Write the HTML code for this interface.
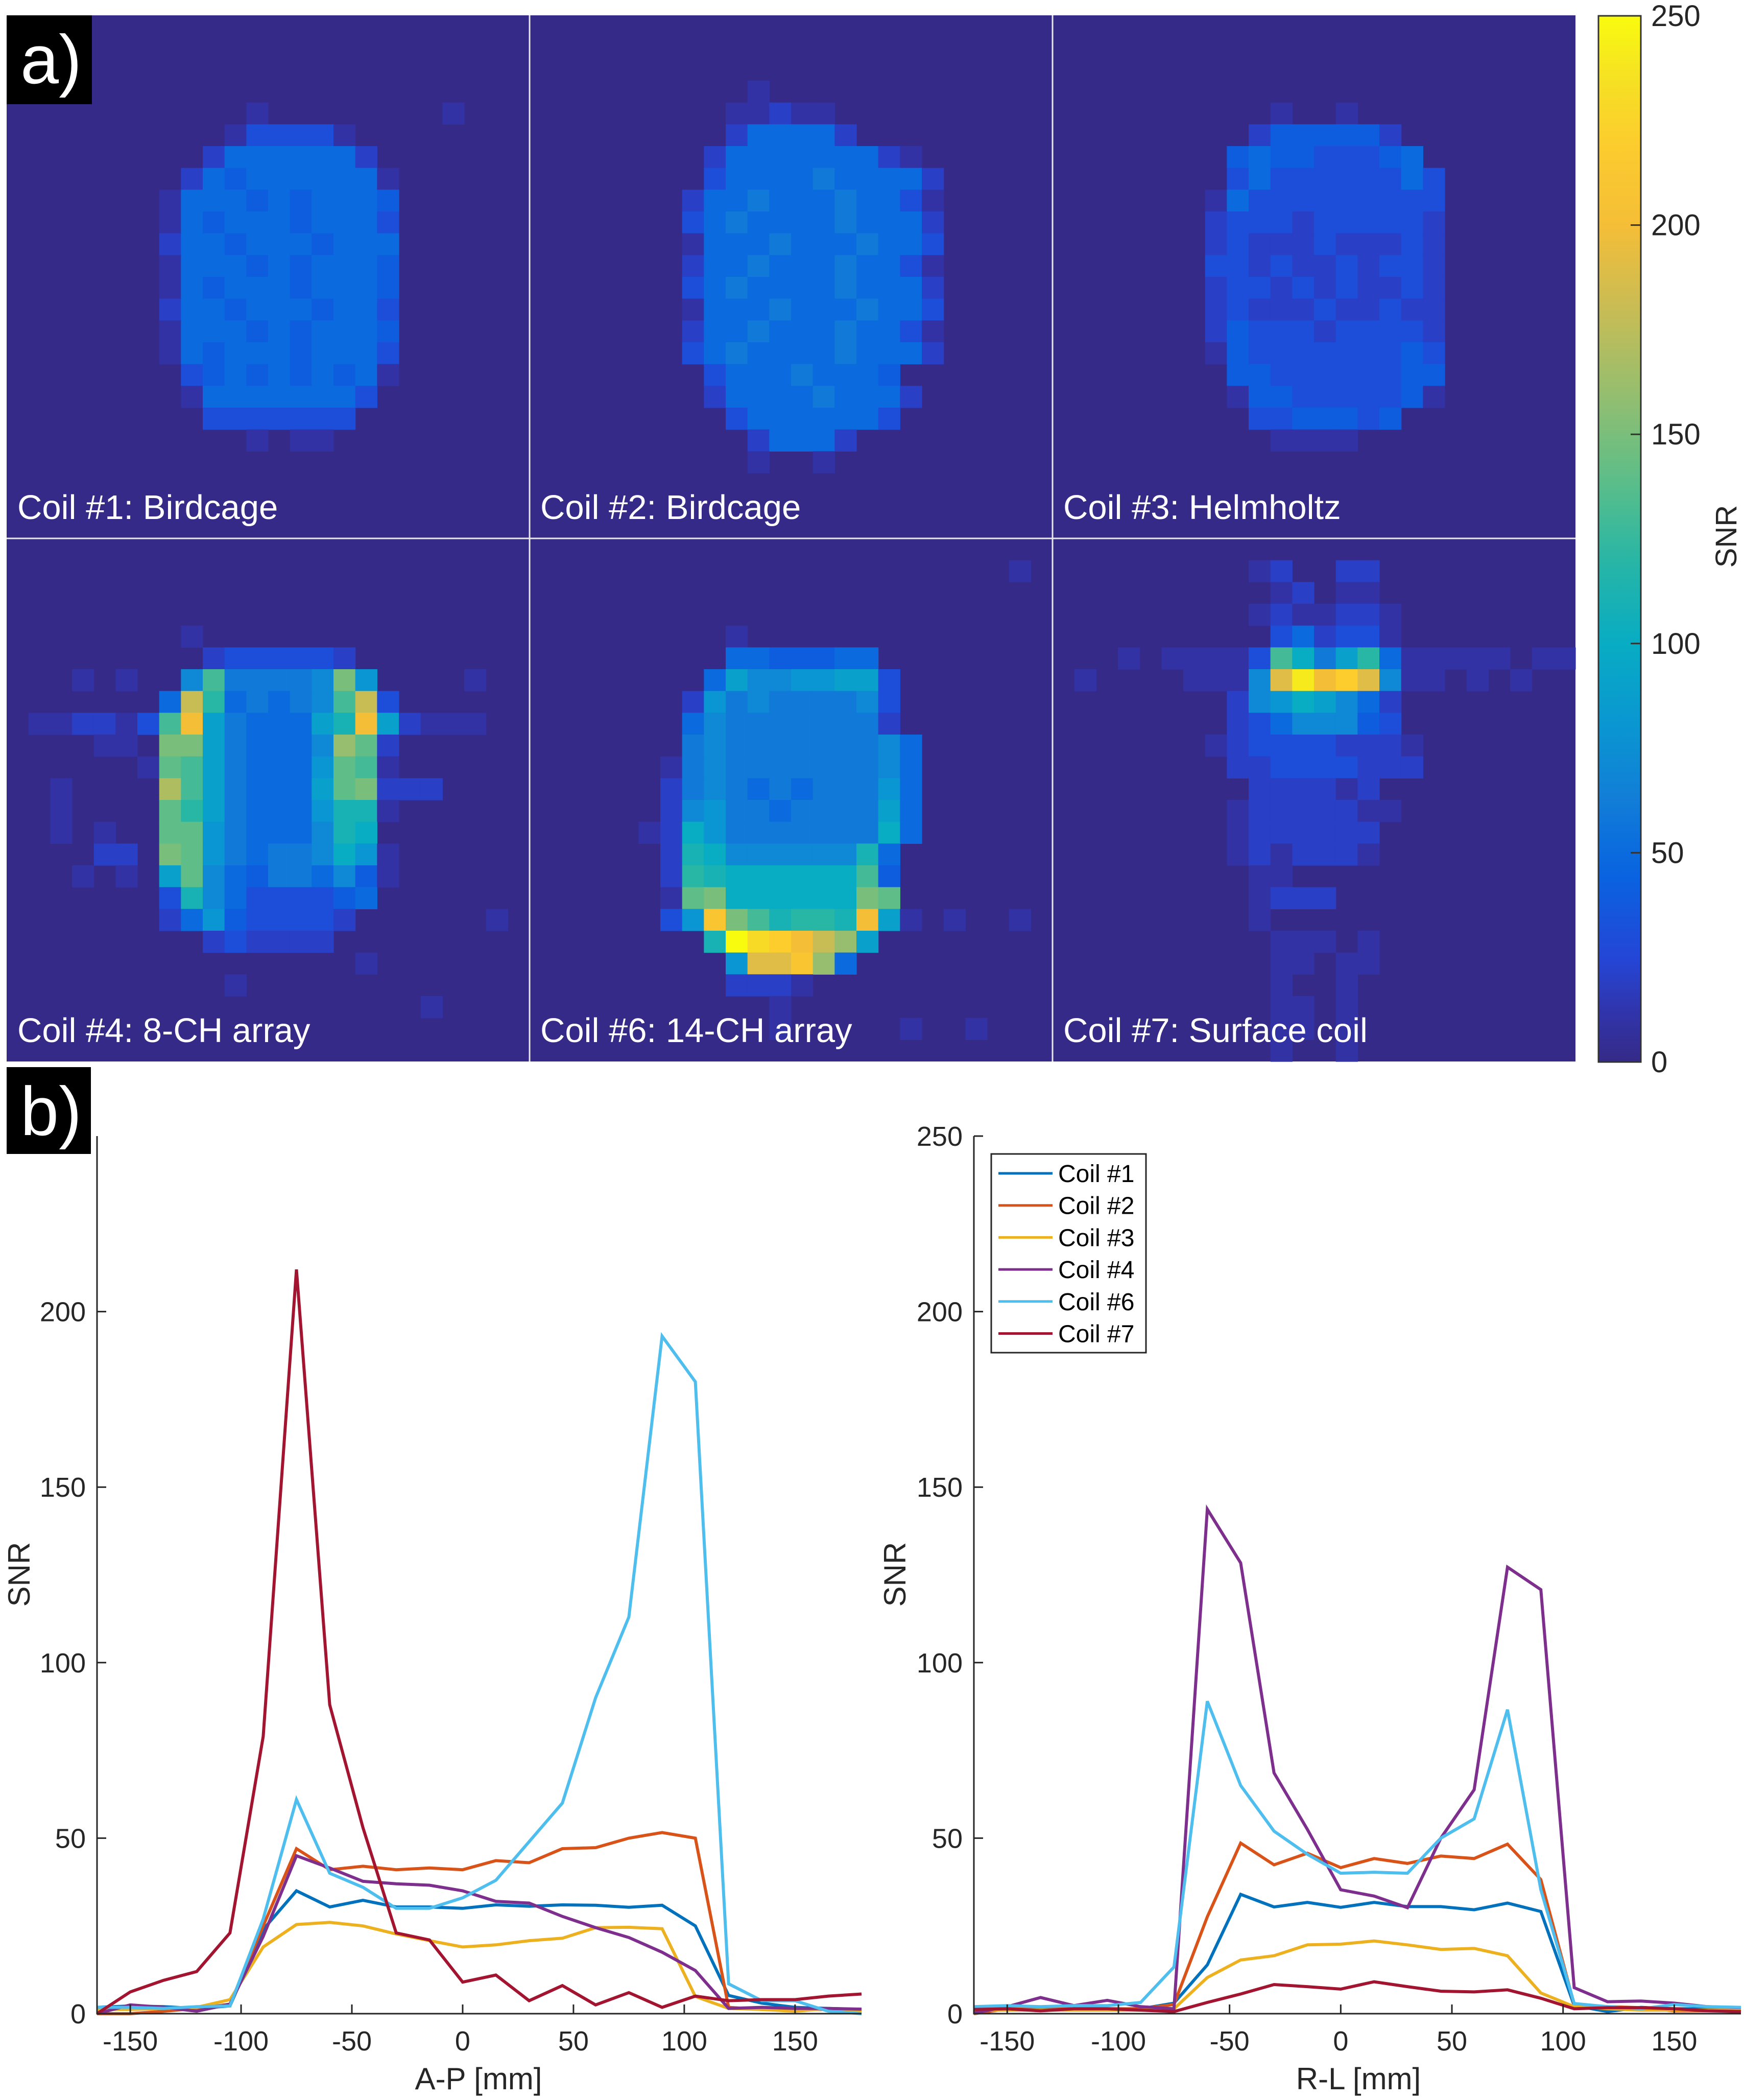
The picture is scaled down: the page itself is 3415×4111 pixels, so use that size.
<!DOCTYPE html>
<html><head><meta charset="utf-8"><style>
html,body{margin:0;padding:0;background:#fff;}
svg{display:block;font-family:"Liberation Sans",Arial,sans-serif;}
</style></head><body>
<svg id="fig" xmlns="http://www.w3.org/2000/svg" width="3415" height="4111" viewBox="0 0 3415 4111">
<defs><linearGradient id="cbgrad" x1="0" y1="1" x2="0" y2="0"></linearGradient></defs>
<g id="maps"></g>
<g id="cbar"></g>
<g id="plots"></g>
<rect x="13" y="30" width="167" height="174" fill="#000"/>
<text x="40" y="163" font-size="135" fill="#fff">a)</text>
<rect x="13" y="2089" width="165" height="170" fill="#000"/>
<text x="40" y="2222" font-size="135" fill="#fff">b)</text>
</svg>
<script>
// ---------- data ----------
// heatmap cell code: '.'=0, '1'..'9' = 10..90, 'a'..'p' = 100..250
const mapTitles = ["Coil #1: Birdcage","Coil #2: Birdcage","Coil #3: Helmholtz","Coil #4: 8-CH array","Coil #6: 14-CH array","Coil #7: Surface coil"];
const map1 = [[4,"...........1........1..."],[5,"..........133331........"],[6,".........25555552......."],[7,"........2545555551......"],[8,".......15554545554......"],[9,".......15455545553......"],[10,".......25545554555......"],[11,".......15554545554......"],[12,".......15455545554......"],[13,".......25545554553......"],[14,".......15554545554......"],[15,".......15455545553......"],[16,"........3454545451......"],[17,"........155555553......."],[18,".........3333333........"],[19,"...........1.11........."]];
const map2 = [[3,"..........1............."],[4,".........11211.........."],[5,".........255552........."],[6,"........2555555521......"],[7,"........35555655552....."],[8,".......255655565531....."],[9,".......356555565552....."],[10,".......155565556553....."],[11,".......255655565531....."],[12,".......356555565552....."],[13,".......155565556553....."],[14,".......255655565531....."],[15,".......356555565552....."],[16,"........355565554......."],[17,"........2555565552......"],[18,".........35555553......."],[19,"..........25552........."],[20,"..........1..1.........."]];
const map3 = [[4,"..........1..1.........."],[5,".........2444442........"],[6,"........454433345......."],[7,"........3533333353......"],[8,".......15333333333......"],[9,".......23332333332......"],[10,".......23222322232......"],[11,".......33232232332......"],[12,".......23323232232......"],[13,".......23222322322......"],[14,".......24333233332......"],[15,".......14333333343......"],[16,"........4433333344......"],[17,"........1443333341......"],[18,".........3344434........"],[19,"..........1111.........."]];
const map4 = [[4,"........1..............."],[5,".........2333332........"],[6,"...1.1..7d66667f8....1.."],[7,".......5ic56567di3......"],[8,".112213dk965559bk92111.."],[9,"....11.ff965557ge2......"],[10,"......1ed965558ed1......"],[11,"..1....hd965559ef222...."],[12,"..1....ec965558bb1......"],[13,"..1.1..ee865557ba......."],[14,"....22.fe865667a81......"],[15,"...1.1.9e754665741......"],[16,".......3b75333345......."],[17,".......258433332......1."],[18,".........232222........."],[19,"................1......."],[20,"..........1............."],[21,"...................1...."]];
const map6 = [[1,"......................1."],[4,".........1.............."],[5,".........5544455........"],[6,"........597788993......."],[7,".......2867666673......."],[8,".......5766666662......."],[9,".......67666666675......"],[10,"......167666666675......"],[11,"......267656566685......"],[12,"......278665666695......"],[13,".....12a86666666a5......"],[14,"......2ba777777b5......."],[15,"......2cbaaaaaad4......."],[16,"......1efaaaaaafe......."],[17,"......38lfdbccbk91.1..1."],[18,"........bpnmkig9........"],[19,".........8jjlg5........."],[20,".........2221..........."],[21,"...........1............"],[22,"...........1.....1..1..."]];
const map7 = [[1,".........12..22........."],[2,"..........12.11........."],[3,".........1211221........"],[4,"..........352331........"],[5,"...1.11113da69c511111.11"],[6,".1....1117jokmj711.1.1.."],[7,"........278a9752........"],[8,"........23577743........"],[9,".......1233332221......."],[10,"........223333222......."],[11,".........222212........."],[12,"........12222211........"],[13,"........1222222........."],[14,"........1212221........."],[15,".........11............."],[16,".........1222..........."],[17,".........1.............."],[18,"..........111.1........."],[19,"..........11.11........."],[20,"..........1..1.........."],[21,"..........11.1.........."],[22,"..........11.1.........."],[23,"..........1..1.........."]];
const maps = [map1,map2,map3,map4,map6,map7];
const cbTicks = [0,50,100,150,200,250];

const xPos = [-165,-150,-135,-120,-105,-90,-75,-60,-45,-30,-15,0,15,30,45,60,75,90,105,120,135,150,165,180];
const seriesNames = ["Coil #1","Coil #2","Coil #3","Coil #4","Coil #6","Coil #7"];
const seriesColors = ["#0072bd","#d95319","#edb120","#7e2f8e","#4dbeee","#a2142f"];
const apCoil1 = [1.8,2.2,2,1.5,2.2,24,35,30.4,32.3,30.4,30.4,30,31,30.6,31,30.9,30.3,30.9,25,5.2,3,1.8,1.5,1.2];
const apCoil2 = [0,0,0.7,1.5,2.7,25,47,41,42,41,41.5,41,43.6,43,47,47.3,50,51.6,50,1.8,1.2,1.2,1.2,0.7];
const apCoil3 = [1.2,1.2,1.5,1.8,4,19,25.4,26,25,22.7,20.8,19,19.6,20.8,21.5,24.5,24.6,24.2,4.9,1.5,1.2,0.7,1.5,0.7];
const apCoil4 = [0,2.5,1.8,0.7,2.7,22,45,41.5,37.7,37,36.6,35,32,31.5,27.7,24.5,21.7,17.5,12.3,1.5,1.8,1.5,1.5,1.3];
const apCoil6 = [1.8,1.8,1.5,2,2.2,27,61,40,36,30,30,33,38,49,60,90,113,193,180,8.5,3.7,3.7,0.7,0];
const apCoil7 = [0,6.2,9.5,12,23,79,212,88,53,23,21,9,11,3.7,8,2.5,6,1.8,5,3.7,4,4,5,5.6];
const rlCoil1 = [1.4,1.4,1.4,1.4,1.4,1.4,3,13.9,34,30.4,31.7,30.3,31.7,30.5,30.5,29.6,31.5,29.1,2.3,0.6,1.8,1.4,1.4,1.2];
const rlCoil2 = [0,1.4,1.4,1.4,1.4,1.4,2.6,27.6,48.6,42.4,45.7,41.6,44.2,42.8,44.9,44.2,48.3,38.2,2.6,2,1.7,0.8,0.8,0.8];
const rlCoil3 = [1,1,1,1,1,1,1.4,10.3,15.3,16.5,19.6,19.8,20.7,19.6,18.3,18.6,16.5,5.9,2,1.4,1,1,1,1];
const rlCoil4 = [0.2,2,4.6,2.3,3.8,2,1.4,143.7,128.4,68.6,52.5,35.3,33.5,30.2,50,63.8,127.2,120.8,7.4,3.4,3.6,3,2,1.7];
const rlCoil6 = [2,2.3,2,2.3,2.3,3.2,13.3,89,65,52,45.4,40,40.3,40,50,55.5,86.6,35.3,2.9,2,1.4,2.6,2,1.8];
const rlCoil7 = [1.2,1.4,0.8,1.4,1.4,1,0.6,3.2,5.6,8.3,7.7,7,9.1,7.7,6.4,6.2,6.8,4.4,1.4,1.7,1.7,1.4,0.8,0.6];
const apSeries = [apCoil1,apCoil2,apCoil3,apCoil4,apCoil6,apCoil7];
const rlSeries = [rlCoil1,rlCoil2,rlCoil3,rlCoil4,rlCoil6,rlCoil7];
const xTicks = [-150,-100,-50,0,50,100,150];
const yTicks = [0,50,100,150,200,250];

// ---------- helpers ----------
const NS = "http://www.w3.org/2000/svg";
function mk(tag, attrs, parent){const e=document.createElementNS(NS,tag);for(const k in attrs)e.setAttribute(k,attrs[k]);parent.appendChild(e);return e;}
const stops=[[0,53,42,135],[0.04,50,50,165],[0.1,36,70,215],[0.18,8,100,225],[0.25,18,125,215],[0.32,10,150,210],[0.4,8,172,195],[0.48,40,182,165],[0.56,95,190,135],[0.64,150,190,110],[0.72,200,188,85],[0.8,245,190,55],[0.88,252,205,45],[0.94,245,225,35],[1,249,251,14]];
function parula(t){t=Math.max(0,Math.min(1,t));for(let i=1;i<stops.length;i++){if(t<=stops[i][0]){const a=stops[i-1],b=stops[i],f=(t-a[0])/(b[0]-a[0]);return "rgb("+[1,2,3].map(j=>Math.round(a[j]+f*(b[j]-a[j]))).join(",")+")";}}return "rgb(249,251,14)";}
function codeVal(ch){if(ch===".")return 0;if(ch>="0"&&ch<="9")return (ch.charCodeAt(0)-48)*10;return 100+(ch.charCodeAt(0)-97)*10;}

// ---------- heatmaps ----------
const gm=document.getElementById("maps");
const MX0=13,MY0=30,PW=1024,NC=24,CS=PW/NC;
maps.forEach((m,pi)=>{
  const px=MX0+(pi%3)*PW, py=MY0+Math.floor(pi/3)*PW;
  const g=mk("g",{},gm);
  
  
  const bg=mk("rect",{x:px,y:py,width:PW,height:PW,fill:parula(0)},g);
  
  
  m.forEach(([r,s])=>{
    for(let c=0;c<NC;c++){
      const v=codeVal(s[c]); if(v===0) continue;
      const cell=mk("rect",{x:(px+c*CS).toFixed(2),y:(py+r*CS).toFixed(2),width:(CS+0.6).toFixed(2),height:(CS+0.6).toFixed(2),fill:parula(v/250)},g);
      
      
    }
  });
  const t=mk("text",{x:px+21,y:py+986,"font-size":67,fill:"#fff"},g);
  t.textContent=mapTitles[pi];
  
  
});
[[MX0+PW,MY0,MX0+PW,MY0+2*PW],[MX0+2*PW,MY0,MX0+2*PW,MY0+2*PW],[MX0,MY0+PW,MX0+3*PW,MY0+PW]].forEach(l=>{
  const ln=mk("line",{x1:l[0],y1:l[1],x2:l[2],y2:l[3],stroke:"#e6e6e6","stroke-width":3},gm);
  
  
});

// ---------- colorbar ----------
const gr=document.getElementById("cbgrad");
for(let i=0;i<=40;i++){mk("stop",{offset:(i/40),"stop-color":parula(i/40)},gr);}
const gc=document.getElementById("cbar");
const CBX=3130,CBW=83,CBT=31,CBB=2079;
const cbr=mk("rect",{x:CBX,y:CBT,width:CBW,height:CBB-CBT,fill:"url(#cbgrad)",stroke:"#333","stroke-width":3},gc);


cbTicks.forEach(v=>{
  const y=CBB-(v/250)*(CBB-CBT);
  const tk=mk("line",{x1:CBX+CBW-20,y1:y,x2:CBX+CBW,y2:y,stroke:"#333","stroke-width":3},gc);
  
  
  const t=mk("text",{x:3233,y:y+20,"font-size":58,fill:"#262626"},gc);
  t.textContent=v;
  
  
});
const snr=mk("text",{x:3400,y:1050,"font-size":58,fill:"#262626","text-anchor":"middle",transform:"rotate(-90 3400 1050)"},gc);
snr.textContent="SNR";



// ---------- line plots ----------
const gp=document.getElementById("plots");
function drawPlot(name,x0,x1,yTop,yBot,series,xlabel,xlabelX,ylabelX,showTop){
  const g=mk("g",{},gp);
  
  
  const sx=v=>x0+(v+165)/(345)*(x1-x0);
  const sy=v=>yBot-v/250*(yBot-yTop);
  series.forEach((arr,si)=>{
    const pts=arr.map((v,i)=>sx(xPos[i]).toFixed(1)+","+sy(v).toFixed(1)).join(" ");
    const pl=mk("polyline",{points:pts,fill:"none",stroke:seriesColors[si],"stroke-width":6,"stroke-linejoin":"miter"},g);
    
    
  });
  const ax=mk("path",{d:`M${x0},${yTop} L${x0},${yBot} L${x1},${yBot}`,fill:"none",stroke:"#262626","stroke-width":3},g);
  
  
  xTicks.forEach(v=>{
    const x=sx(v);
    const tk=mk("line",{x1:x,y1:yBot,x2:x,y2:yBot-18,stroke:"#262626","stroke-width":3},g);
    
    
    const t=mk("text",{x:x,y:yBot+72,"font-size":54,fill:"#262626","text-anchor":"middle"},g);
    t.textContent=v;
    
    
  });
  yTicks.forEach(v=>{
    if(v===250&&!showTop) return;
    const y=sy(v);
    const tk=mk("line",{x1:x0,y1:y,x2:x0+18,y2:y,stroke:"#262626","stroke-width":3},g);
    
    
    const t=mk("text",{x:x0-22,y:y+19,"font-size":54,fill:"#262626","text-anchor":"end"},g);
    t.textContent=v;
    
    
  });
  const xl=mk("text",{x:xlabelX,y:4090,"font-size":60,fill:"#262626","text-anchor":"middle"},g);
  xl.textContent=xlabel;
  
  
  const yl=mk("text",{x:ylabelX,y:3082,"font-size":60,fill:"#262626","text-anchor":"middle",transform:`rotate(-90 ${ylabelX} 3082)`},g);
  yl.textContent="SNR";
  
  
}
drawPlot("ap-profile-plot",190,1687,2224,3942,apSeries,"A-P [mm]",937,58,false);
drawPlot("rl-profile-plot",1907,3409,2224,3942,rlSeries,"R-L [mm]",2660,1773,true);

// legend
const lg=mk("g",{},gp);


const lbox=mk("rect",{x:1941,y:2259,width:303,height:389,fill:"#fff",stroke:"#262626","stroke-width":3},lg);


seriesNames.forEach((n,i)=>{
  const y=2297+i*62.7;
  const ln=mk("line",{x1:1955,y1:y,x2:2061,y2:y,stroke:seriesColors[i],"stroke-width":5},lg);
  
  
  const t=mk("text",{x:2072,y:y+17,"font-size":48,fill:"#000"},lg);
  t.textContent=n;
  
  
});
</script>
</body></html>
